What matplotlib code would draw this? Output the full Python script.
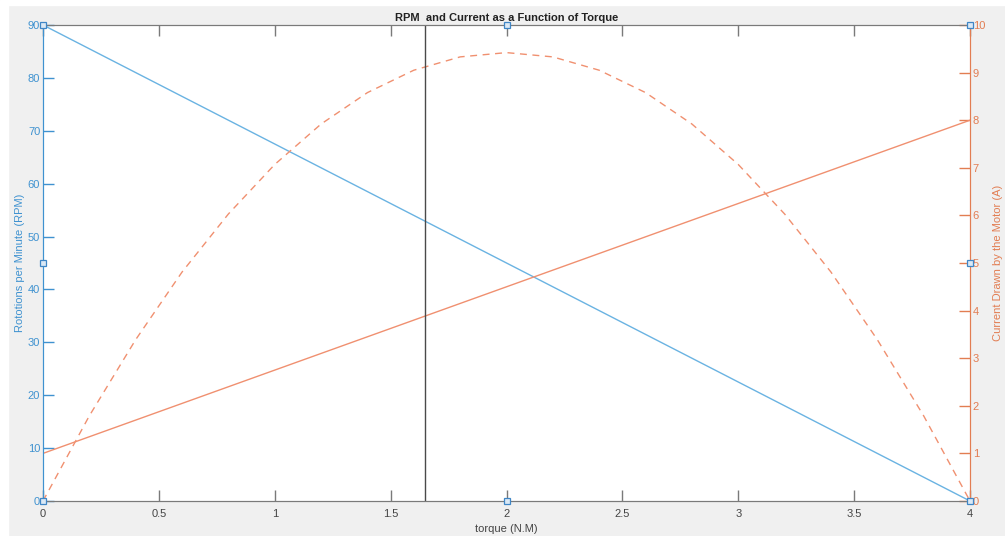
import matplotlib.pyplot as plt
from matplotlib.patches import Rectangle

# Data
torque_line = [0, 4]
rpm = [90, 0]
current = [1, 8]

torque_curve = [0, 0.2, 0.4, 0.6, 0.8, 1.0, 1.2, 1.4, 1.6, 1.8, 2.0,
                2.2, 2.4, 2.6, 2.8, 3.0, 3.2, 3.4, 3.6, 3.8, 4.0]
power_curve = [0, 1.79, 3.39, 4.81, 6.03, 7.07, 7.92, 8.58, 9.05, 9.33, 9.42,
               9.33, 9.05, 8.58, 7.92, 7.07, 6.03, 4.81, 3.39, 1.79, 0]
marker_torque = 1.65

x_ticks = [0, 0.5, 1, 1.5, 2, 2.5, 3, 3.5, 4]
x_tick_labels = ['0', '0.5', '1', '1.5', '2', '2.5', '3', '3.5', '4']

blue_line = '#6ab3e2'
blue_axis = '#3f92d0'
orange_line = '#f09070'
orange_axis = '#e27d52'
gray = '#7a7a7a'

plt.rcParams['font.family'] = ['Liberation Sans', 'DejaVu Sans']

fig = plt.figure(figsize=(10.05, 5.36), dpi=100)
fig.patch.set_facecolor('#f0f0f0')
fig.add_artist(Rectangle((0, 0), 8 / 1005, 1, transform=fig.transFigure, color='white', zorder=-1))
fig.add_artist(Rectangle((0, 1 - 5 / 536), 1, 5 / 536, transform=fig.transFigure, color='white', zorder=-1))

ax = fig.add_axes([43 / 1005, 1 - 501 / 536, 927 / 1005, 476 / 536])
ax2 = ax.twinx()

ax.plot(torque_line, rpm, color=blue_line, lw=1)
ax2.plot(torque_line, current, color=orange_line, lw=1)
ax2.plot(torque_curve, power_curve, color=orange_line, lw=1, ls=(0, (5, 4)))
ax2.axvline(marker_torque, color='#4a4a4a', lw=1)

ax.set_xlim(0, 4)
ax.set_ylim(0, 90)
ax2.set_ylim(0, 10)

ax.set_xticks(x_ticks)
ax.set_xticklabels(x_tick_labels)
ax.set_yticks(range(0, 91, 10))
ax2.set_yticks(range(0, 11, 1))

ax.tick_params(axis='x', direction='in', length=8, width=1, color=gray,
               labelcolor='#444444', labelsize=8, top=True, pad=6)
ax.tick_params(axis='y', direction='in', length=8, width=1, color=blue_axis,
               labelcolor=blue_axis, labelsize=8, pad=2)
ax2.tick_params(axis='y', direction='in', length=8, width=1, color=orange_axis,
                labelcolor=orange_axis, labelsize=8, pad=2)

for a in (ax, ax2):
    a.spines['top'].set_color(gray)
    a.spines['bottom'].set_color(gray)
    a.spines['left'].set_color(blue_axis)
    a.spines['right'].set_color(orange_axis)

ax.set_xlabel('torque (N.M)', fontsize=8, color='#444444', labelpad=3)
ax.set_ylabel('Rototions per Minute (RPM)', fontsize=8, color=blue_axis, labelpad=2)
ax2.set_ylabel('Current Drawn by the Motor (A)', fontsize=8, color=orange_axis, labelpad=6)
ax.set_title('RPM  and Current as a Function of Torque', fontsize=8, fontweight='bold',
             color='#222222', pad=3)

# selection handles at axis corners / midpoints
x0, x1 = ax.get_xlim()
y0, y1 = ax.get_ylim()
hx = [x0, x0, x0, (x0 + x1) / 2, (x0 + x1) / 2, x1, x1, x1]
hy = [y0, (y0 + y1) / 2, y1, y1, y0, y0, (y0 + y1) / 2, y1]
ax2.set_zorder(ax.get_zorder() + 1)
ax2.patch.set_visible(False)
ax2.plot(hx, [v / y1 * ax2.get_ylim()[1] for v in hy], ls='none', marker='s', ms=4,
         mfc='#dbe9f5', mec='#3f86c6', mew=0.9, clip_on=False, zorder=5)

fig.savefig('out.png', dpi=100, facecolor=fig.get_facecolor())
